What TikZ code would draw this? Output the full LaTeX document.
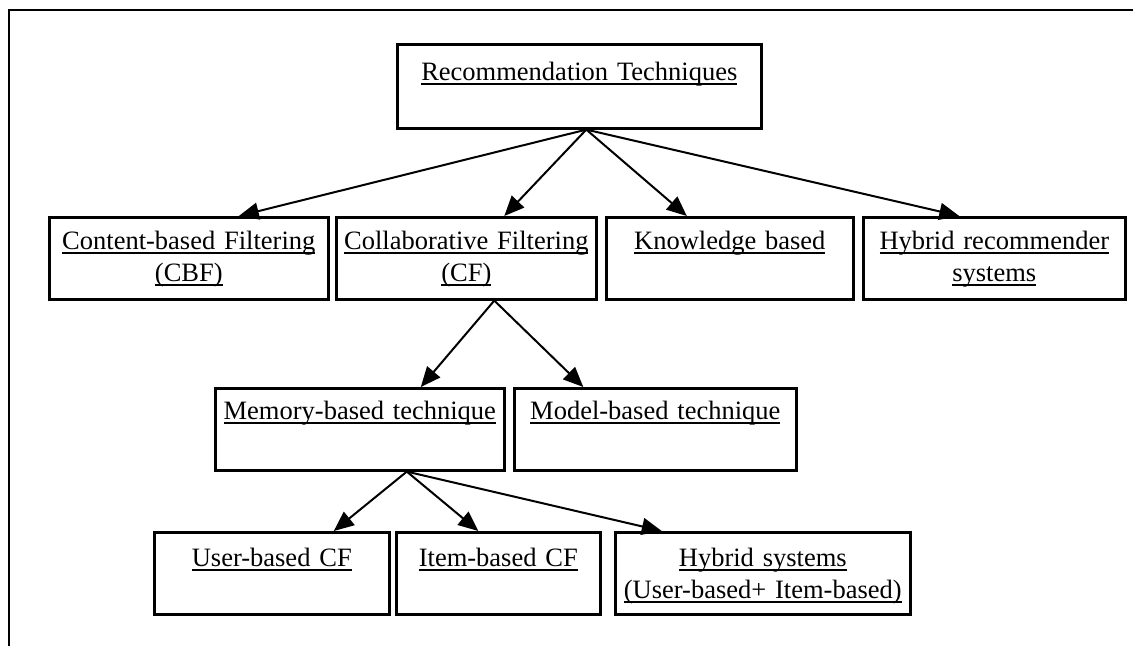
\documentclass[tikz,border=0pt]{standalone}
\usepackage{fontspec}
\setmainfont{Liberation Serif}
\usetikzlibrary{arrows.meta, positioning}
\newcommand{\utext}[1]{\leavevmode\setbox0\hbox{#1}\rlap{\rule[-4.5pt]{\wd0}{1.6pt}}\box0}
\tikzset{
	tbox/.style  ={rectangle, draw=black, line width=2.6pt, anchor=north west, inner sep=0pt, align=center, text height=33pt, font=\fontsize{26.5}{32}\selectfont},
	tarrow/.style={-{Triangle[length=20pt, width=17pt]}, line width=2pt},
}

\begin{document}
\begin{tikzpicture}[x=1pt, y=-1pt]
	\useasboundingbox (0,0) rectangle (1133,646);
	\draw[line width=2.2pt] (9,646) -- (9,10) -- (1133,10);
	% top
	\node[tbox, minimum width=364pt, text width=350pt, text height=36pt, text depth=48pt] (root) at (396,43) {\utext{Recommendation Techniques}};
	% second row
	\node[tbox, minimum width=279pt, text width=272pt, text height=32pt, text depth=50pt] (cbf) at (48,216) {\utext{Content-based Filtering}\\ \utext{(CBF)}};
	\node[tbox, minimum width=260pt, text width=254pt, text height=32pt, text depth=50pt] (cf) at (335,216) {\utext{Collaborative Filtering}\\ \utext{(CF)}};
	\node[tbox, minimum width=247pt, text width=239pt, text height=32pt, text depth=50pt] (know) at (605,216) {\utext{Knowledge based}};
	\node[tbox, minimum width=262pt, text width=254pt, text height=32pt, text depth=50pt] (hybrec) at (862,216) {\utext{Hybrid recommender}\\ \utext{systems}};
	% third row
	\node[tbox, minimum width=289pt, text width=283pt, text height=31pt, text depth=51pt] (mem) at (214,387) {\utext{Memory-based technique}};
	\node[tbox, minimum width=282pt, text width=274pt, text height=31pt, text depth=51pt] (model) at (513,387) {\utext{Model-based technique}};
	% fourth row
	\node[tbox, minimum width=235pt, text width=227pt, text height=34pt, text depth=48pt] (user) at (153,531) {\utext{User-based CF}\hspace*{34pt}};
	\node[tbox, minimum width=204pt, text width=196pt, text height=34pt, text depth=48pt] (item) at (395,531) {\utext{Item-based CF}};
	\node[tbox, minimum width=295pt, text width=289pt, text height=34pt, text depth=48pt] (hybsys) at (614,531) {\utext{Hybrid systems}\\ \utext{(User-based+ Item-based)}};
	\foreach \s/\t/\ds/\dt in {root/cbf/7/50, root/cf/7/38, root/know/7/-43, root/hybrec/7/-35, cf/mem/28/61, cf/model/28/-72, mem/user/47/62, mem/item/47/-20, mem/hybsys/47/-101} {
		\draw[tarrow] ([xshift=\ds pt]\s.south) -- ([xshift=\dt pt]\t.north);
	}
\end{tikzpicture}
\end{document}
